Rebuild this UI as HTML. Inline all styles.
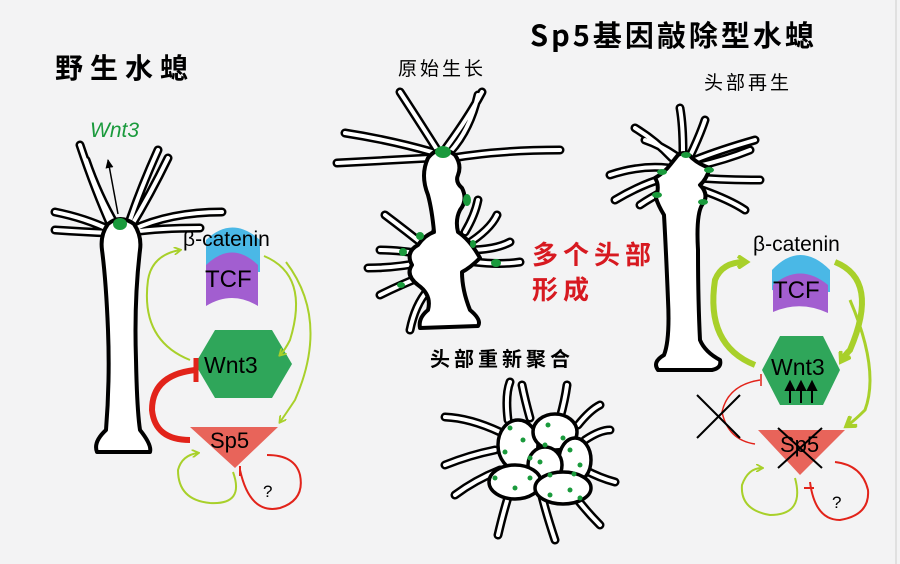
<!DOCTYPE html>
<html><head><meta charset="utf-8"><style>
html,body{margin:0;padding:0;background:#f3f3f4;}
svg{display:block}
text{font-family:"Liberation Sans","Noto Sans CJK SC",sans-serif}
.cj{font-family:"Noto Sans CJK SC","WenQuanYi Zen Hei",sans-serif}
.tb{fill:none;stroke:#000;stroke-width:9;stroke-linecap:round}
.tw{fill:none;stroke:#fff;stroke-width:4;stroke-linecap:round}
.body{fill:#fff;stroke:#000;stroke-width:4;stroke-linejoin:round}
.g{fill:#1a9a3c}
</style></head><body>
<svg width="900" height="564" viewBox="0 0 900 564" xmlns="http://www.w3.org/2000/svg">
<defs>
<marker id="ag" markerWidth="8" markerHeight="8" refX="6" refY="4" orient="auto" markerUnits="userSpaceOnUse"><path d="M0,0 L7,4 L0,8" fill="none" stroke="#a8d02a" stroke-width="1.8"/></marker>
<marker id="agb" markerWidth="14" markerHeight="14" refX="8" refY="7" orient="auto" markerUnits="userSpaceOnUse"><path d="M1,1 L10,7 L1,13" fill="none" stroke="#a8d02a" stroke-width="4"/></marker>
<marker id="ak" markerWidth="10" markerHeight="10" refX="8" refY="5" orient="auto" markerUnits="userSpaceOnUse"><path d="M0,1 L9,5 L0,9 Z" fill="#000"/></marker>
</defs>
<rect width="900" height="564" fill="#f3f3f4"/>
<line x1="896" y1="0" x2="896" y2="564" stroke="#e0e0e0" stroke-width="2"/>

<!-- titles -->
<text x="55" y="78" class="cj" font-size="28" font-weight="bold" letter-spacing="7">野生水螅</text>
<text x="530" y="46" class="cj" font-size="29" font-weight="bold" letter-spacing="3">Sp5基因敲除型水螅</text>
<text x="398" y="75" class="cj" font-size="19" letter-spacing="3">原始生长</text>
<text x="704" y="89" class="cj" font-size="19" letter-spacing="3">头部再生</text>
<text x="532" y="264" class="cj" font-size="26" font-weight="bold" fill="#d71920" letter-spacing="5">多个头部</text>
<text x="532" y="299" class="cj" font-size="26" font-weight="bold" fill="#d71920" letter-spacing="5">形成</text>
<text x="430" y="366" class="cj" font-size="20" font-weight="bold" letter-spacing="4">头部重新聚合</text>

<!-- LEFT HYDRA -->
<g>
<path class="tb" d="M112,228 Q95,190 80,145 M116,226 Q98,195 86,160 M128,226 Q140,190 158,150 M130,228 Q150,195 168,158 M110,230 Q85,218 55,212 M110,233 Q85,232 55,230 M132,230 Q170,212 222,212 M132,232 Q160,228 200,228"/>
<path class="tw" d="M112,228 Q95,190 80,145 M116,226 Q98,195 86,160 M128,226 Q140,190 158,150 M130,228 Q150,195 168,158 M110,230 Q85,218 55,212 M110,233 Q85,232 55,230 M132,230 Q170,212 222,212 M132,232 Q160,228 200,228"/>
<path class="body" d="M108,224 Q120,214 134,224 Q142,236 140,250 Q134,300 136,360 Q137,410 140,430 Q152,445 150,452 L97,452 Q93,442 106,430 Q110,380 108,330 Q106,280 102,250 Q100,235 108,224 Z"/>
<ellipse class="g" cx="120" cy="224" rx="7" ry="6"/>
<line x1="118" y1="214" x2="108" y2="160" stroke="#000" stroke-width="1.5" marker-end="url(#ak)"/>
<text x="90" y="137" font-size="21" font-style="italic" fill="#1a9a3c">Wnt3</text>
</g>

<!-- LEFT NETWORK -->
<g>
<path d="M206,270 L206,240 Q232,215 260,240 L260,272 L250,272 Q232,258 214,272 Z" fill="#4ab8e6"/>
<path d="M206,306 L206,265 Q232,240 258,265 L258,306 Q232,290 206,306 Z" fill="#a25ed0"/>
<text x="183" y="246" font-size="21">β-catenin</text>
<text x="205" y="287" font-size="24">TCF</text>
<polygon points="195,364 215,330 272,330 292,364 272,398 215,398" fill="#2fa65a"/>
<text x="204" y="373" font-size="23">Wnt3</text>
<polygon points="190,427 278,427 235,468" fill="#e8645a"/>
<text x="210" y="448" font-size="22">Sp5</text>
<path d="M190,360 Q140,340 148,280 Q152,255 180,250" fill="none" stroke="#a8d02a" stroke-width="2" marker-end="url(#ag)"/>
<path d="M264,256 Q310,275 290,340 Q285,350 280,355" fill="none" stroke="#a8d02a" stroke-width="2" marker-end="url(#ag)"/>
<path d="M286,262 Q330,320 295,400 Q285,415 280,422" fill="none" stroke="#a8d02a" stroke-width="2" marker-end="url(#ag)"/>
<path d="M190,440 Q155,440 152,410 Q152,375 195,370" fill="none" stroke="#e2231a" stroke-width="6"/>
<line x1="196" y1="358" x2="196" y2="382" stroke="#e2231a" stroke-width="5"/>
<path d="M233,472 Q245,505 210,503 Q178,500 178,470 Q182,455 198,453" fill="none" stroke="#a8d02a" stroke-width="2" marker-end="url(#ag)"/>
<path d="M240,470 Q250,515 280,508 Q305,500 300,475 Q295,455 267,455" fill="none" stroke="#e2231a" stroke-width="2"/>
<line x1="240" y1="466" x2="240" y2="476" stroke="#e2231a" stroke-width="2"/>
<text x="263" y="497" font-size="17">?</text>
</g>

<!-- MIDDLE HYDRA -->
<g>
<path class="tb" d="M432,152 Q390,140 345,133 M430,158 Q390,160 337,163 M436,148 Q415,115 400,92 M446,148 Q470,115 482,92 M450,152 Q470,130 478,95 M452,158 Q500,150 560,150 M430,250 Q405,230 385,215 M428,255 Q400,250 380,250 M425,262 Q395,268 368,268 M425,275 Q400,285 380,295 M428,290 Q415,305 410,330 M432,240 Q440,225 440,208 M465,232 Q475,215 478,200 M466,245 Q490,230 497,215 M468,250 Q495,250 510,242 M475,262 Q500,265 520,262"/>
<path class="tw" d="M432,152 Q390,140 345,133 M430,158 Q390,160 337,163 M436,148 Q415,115 400,92 M446,148 Q470,115 482,92 M450,152 Q470,130 478,95 M452,158 Q500,150 560,150 M430,250 Q405,230 385,215 M428,255 Q400,250 380,250 M425,262 Q395,268 368,268 M425,275 Q400,285 380,295 M428,290 Q415,305 410,330 M432,240 Q440,225 440,208 M465,232 Q475,215 478,200 M466,245 Q490,230 497,215 M468,250 Q495,250 510,242 M475,262 Q500,265 520,262"/>
<path class="body" d="M428,158 Q440,143 455,155 Q462,165 458,175 Q455,182 462,188 Q468,200 460,210 Q455,220 458,232 Q470,240 480,258 Q470,268 462,272 Q462,290 470,310 Q482,320 478,326 L420,328 Q418,318 428,310 Q432,295 418,285 Q405,275 412,265 Q405,252 418,245 Q425,235 434,232 Q432,210 428,195 Q420,175 428,158 Z"/>
<g class="g"><ellipse cx="443" cy="152" rx="8" ry="6"/><ellipse cx="467" cy="200" rx="4" ry="6"/><ellipse cx="420" cy="236" rx="4" ry="4"/><ellipse cx="403" cy="252" rx="4" ry="4"/><ellipse cx="401" cy="285" rx="4" ry="3"/><ellipse cx="473" cy="244" rx="3" ry="4"/><ellipse cx="496" cy="263" rx="5" ry="4"/></g>
</g>

<!-- AGGREGATE -->
<g>
<path class="tb" d="M508,420 Q505,395 510,382 M530,418 Q525,400 522,385 M560,418 Q565,400 567,385 M500,432 Q470,418 445,417 M495,450 Q470,455 445,465 M500,470 Q475,480 455,495 M512,485 Q505,505 498,535 M540,488 Q545,510 555,540 M570,490 Q585,510 600,525 M578,425 Q590,410 600,405 M585,440 Q600,430 610,430 M585,470 Q600,478 615,482"/>
<path class="tw" d="M508,420 Q505,395 510,382 M530,418 Q525,400 522,385 M560,418 Q565,400 567,385 M500,432 Q470,418 445,417 M495,450 Q470,455 445,465 M500,470 Q475,480 455,495 M512,485 Q505,505 498,535 M540,488 Q545,510 555,540 M570,490 Q585,510 600,525 M578,425 Q590,410 600,405 M585,440 Q600,430 610,430 M585,470 Q600,478 615,482"/>
<g fill="#fff" stroke="#000" stroke-width="3.5">
<ellipse cx="518" cy="445" rx="20" ry="25"/>
<ellipse cx="555" cy="432" rx="22" ry="18"/>
<ellipse cx="575" cy="460" rx="16" ry="22"/>
<ellipse cx="545" cy="465" rx="17" ry="18"/>
<ellipse cx="515" cy="482" rx="26" ry="17"/>
<ellipse cx="563" cy="488" rx="28" ry="16"/>
</g>
<g class="g">
<circle cx="510" cy="428" r="2.5"/><circle cx="523" cy="440" r="2.5"/><circle cx="505" cy="452" r="2.5"/><circle cx="530" cy="458" r="2.5"/>
<circle cx="548" cy="425" r="2.5"/><circle cx="563" cy="438" r="2.5"/><circle cx="545" cy="445" r="2.5"/>
<circle cx="570" cy="450" r="2.5"/><circle cx="580" cy="465" r="2.5"/><circle cx="574" cy="474" r="2.5"/>
<circle cx="540" cy="462" r="2.5"/><circle cx="550" cy="475" r="2.5"/>
<circle cx="495" cy="478" r="2.5"/><circle cx="515" cy="488" r="2.5"/><circle cx="530" cy="478" r="2.5"/>
<circle cx="550" cy="495" r="2.5"/><circle cx="570" cy="490" r="2.5"/><circle cx="580" cy="498" r="2.5"/>
</g>
</g>

<!-- RIGHT HYDRA -->
<g>
<path class="tb" d="M672,158 Q655,140 635,128 M676,156 Q660,145 645,140 M683,152 Q683,125 680,108 M690,156 Q700,135 705,120 M695,160 Q720,150 755,140 M698,166 Q725,160 750,150 M668,168 Q640,165 610,175 M664,178 Q640,185 615,200 M700,178 Q725,180 760,180 M702,190 Q730,200 745,210 M666,190 Q650,198 640,205"/>
<path class="tw" d="M672,158 Q655,140 635,128 M676,156 Q660,145 645,140 M683,152 Q683,125 680,108 M690,156 Q700,135 705,120 M695,160 Q720,150 755,140 M698,166 Q725,160 750,150 M668,168 Q640,165 610,175 M664,178 Q640,185 615,200 M700,178 Q725,180 760,180 M702,190 Q730,200 745,210 M666,190 Q650,198 640,205"/>
<path class="body" d="M678,155 Q686,150 692,158 Q700,165 710,168 Q706,180 700,185 Q710,195 702,205 Q696,215 698,250 Q698,300 700,340 Q705,352 720,360 Q722,368 712,370 L658,370 Q652,362 664,355 Q670,340 668,300 Q666,250 664,215 Q658,205 656,198 Q660,185 655,178 Q665,172 670,165 Z"/>
<g class="g"><ellipse cx="686" cy="155" rx="5" ry="3"/><ellipse cx="662" cy="172" rx="5" ry="3"/><ellipse cx="709" cy="170" rx="5" ry="3"/><ellipse cx="657" cy="195" rx="5" ry="3"/><ellipse cx="703" cy="202" rx="5" ry="3"/></g>
</g>

<!-- RIGHT NETWORK -->
<g>
<path d="M772,290 L772,270 Q800,240 830,270 L830,292 L820,292 Q800,278 782,292 Z" fill="#4ab8e6"/>
<path d="M773,312 L773,285 Q800,262 828,285 L828,313 Q800,300 773,312 Z" fill="#a25ed0"/>
<text x="753" y="251" font-size="21">β-catenin</text>
<text x="773" y="298" font-size="24">TCF</text>
<polygon points="762,370 780,336 823,336 840,370 823,405 780,405" fill="#2fa65a"/>
<text x="771" y="375" font-size="23">Wnt3</text>
<g stroke="#000" stroke-width="2" fill="#000">
<line x1="790" y1="403" x2="790" y2="388"/><path d="M786,390 L790,382 L794,390Z"/>
<line x1="801" y1="403" x2="801" y2="388"/><path d="M797,390 L801,382 L805,390Z"/>
<line x1="812" y1="403" x2="812" y2="388"/><path d="M808,390 L812,382 L816,390Z"/>
</g>
<polygon points="758,430 845,430 800,475" fill="#e8645a"/>
<text x="780" y="452" font-size="22">Sp5</text>
<line x1="778" y1="428" x2="822" y2="468" stroke="#000" stroke-width="2"/>
<line x1="778" y1="468" x2="822" y2="428" stroke="#000" stroke-width="2"/>
<path d="M755,365 Q705,345 715,280 Q722,262 745,262" fill="none" stroke="#a8d02a" stroke-width="6" marker-end="url(#agb)"/>
<path d="M835,262 Q880,280 850,350 Q845,355 842,360" fill="none" stroke="#a8d02a" stroke-width="6" marker-end="url(#agb)"/>
<path d="M850,300 Q880,370 865,410 Q855,420 848,425" fill="none" stroke="#a8d02a" stroke-width="3" marker-end="url(#agb)"/>
<path d="M755,444 Q728,440 722,412 Q728,385 760,380" fill="none" stroke="#e2231a" stroke-width="1.5"/>
<line x1="761" y1="374" x2="761" y2="386" stroke="#e2231a" stroke-width="1.5"/>
<line x1="697" y1="395" x2="740" y2="438" stroke="#000" stroke-width="2"/>
<line x1="697" y1="438" x2="740" y2="395" stroke="#000" stroke-width="2"/>
<path d="M795,478 Q805,515 770,515 Q740,510 742,485 Q748,468 762,468" fill="none" stroke="#a8d02a" stroke-width="2" marker-end="url(#ag)"/>
<path d="M810,482 Q815,520 840,520 Q870,515 868,490 Q862,465 835,462" fill="none" stroke="#e2231a" stroke-width="2"/>
<line x1="804" y1="488" x2="814" y2="488" stroke="#e2231a" stroke-width="2"/>
<text x="832" y="508" font-size="17">?</text>
</g>
</svg>
</body></html>
